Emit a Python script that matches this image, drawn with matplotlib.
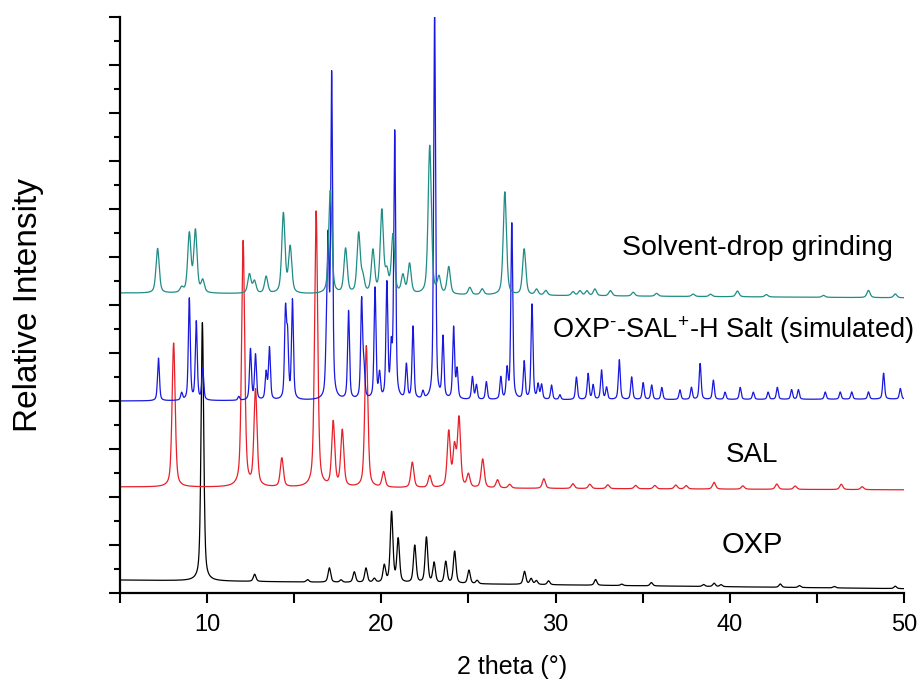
import matplotlib.pyplot as plt
from matplotlib.ticker import MultipleLocator
import numpy as np

plt.rcParams['font.family'] = ['Liberation Sans', 'DejaVu Sans']
plt.rcParams['mathtext.fontset'] = 'custom'
plt.rcParams['mathtext.rm'] = 'Liberation Sans'
plt.rcParams['mathtext.it'] = 'Liberation Sans'

# peak lists: 2theta position, height above baseline
oxp_pos = [9.73, 12.73, 15.77, 17.02, 17.69, 18.45, 19.12, 19.6, 20.17, 20.59, 20.97,
           21.92, 22.59, 23.03, 23.7, 24.21, 25.03, 25.5, 28.22, 28.6, 28.9, 29.6,
           32.3, 33.8, 35.5, 38.5, 39.1, 39.5, 42.9, 44.0, 46.0, 49.5]
oxp_h = [5.38, 0.15, 0.05, 0.3, 0.05, 0.22, 0.3, 0.08, 0.35, 1.46, 0.9,
         0.78, 0.95, 0.42, 0.45, 0.67, 0.28, 0.07, 0.27, 0.12, 0.08, 0.08,
         0.12, 0.03, 0.07, 0.04, 0.07, 0.04, 0.07, 0.04, 0.03, 0.05]

sal_pos = [8.08, 12.07, 12.78, 14.29, 16.26, 17.24, 17.76, 19.14, 20.13, 21.78, 22.78,
           23.87, 24.2, 24.46, 25.0, 25.82, 26.67, 27.37, 29.33, 31.0, 31.97, 33.0,
           34.6, 35.7, 36.9, 37.5, 39.1, 40.75, 42.7, 43.75, 46.4, 47.6]
sal_h = [3.0, 5.12, 2.0, 0.6, 5.75, 1.34, 1.17, 2.95, 0.32, 0.53, 0.25,
         1.15, 0.8, 1.42, 0.27, 0.6, 0.17, 0.08, 0.2, 0.1, 0.09, 0.08,
         0.07, 0.07, 0.08, 0.07, 0.14, 0.07, 0.11, 0.07, 0.11, 0.06]

salt_pos = [7.21, 8.54, 8.98, 9.38, 9.75, 11.82, 12.49, 12.78, 13.39, 13.58, 14.5, 14.62,
            14.9, 16.85, 16.95, 17.15, 18.12, 18.87, 19.0, 19.64, 19.9, 20.32, 20.57,
            20.77, 21.44, 21.82, 22.39, 23.06, 23.54, 24.15, 24.35, 25.23, 25.46, 26.03,
            26.86, 27.22, 27.49, 28.2, 28.65, 29.0, 29.2, 29.77, 30.25, 31.2, 31.87,
            32.16, 32.64, 32.93, 33.66, 34.37, 35.03, 35.52, 36.1, 37.14, 37.8, 38.3,
            39.06, 39.73, 40.6, 41.35, 42.2, 42.73, 43.55, 43.94, 45.48, 46.34, 47.0,
            47.96, 48.83, 49.79]
salt_h = [0.89, 0.15, 2.12, 1.63, 0.65, 0.08, 1.06, 0.94, 0.56, 1.08, 1.79, 1.2,
          2.06, 0.9, 3.0, 6.7, 1.84, 2.05, 0.6, 2.31, 0.5, 2.38, 0.96,
          5.55, 0.71, 1.51, 0.15, 8.05, 1.27, 1.49, 0.6, 0.47, 0.3, 0.37,
          0.46, 0.6, 3.67, 0.78, 1.98, 0.3, 0.3, 0.3, 0.1, 0.47, 0.54,
          0.3, 0.61, 0.25, 0.83, 0.47, 0.35, 0.3, 0.25, 0.2, 0.25, 0.75,
          0.4, 0.15, 0.25, 0.15, 0.15, 0.25, 0.2, 0.2, 0.15, 0.15, 0.15,
          0.15, 0.54, 0.22]

sdg_pos = [7.16, 8.54, 8.98, 9.33, 9.75, 12.43, 12.72, 13.39, 14.38, 14.77, 17.07,
           17.95, 18.7, 18.94, 19.52, 20.03, 20.32, 20.67, 21.24, 21.62, 22.78, 23.31,
           23.87, 25.08, 25.79, 27.09, 28.2, 28.91, 29.44, 31.0, 31.4, 31.8, 32.26,
           33.15, 34.46, 35.8, 37.9, 38.9, 40.44, 42.1, 45.38, 47.96, 49.5]
sdg_h = [0.93, 0.1, 1.22, 1.28, 0.25, 0.4, 0.25, 0.35, 1.66, 0.95, 2.15,
         0.93, 1.24, 0.3, 0.88, 1.71, 0.4, 1.21, 0.37, 0.62, 3.1, 0.33,
         0.57, 0.15, 0.12, 2.15, 0.96, 0.12, 0.1, 0.08, 0.1, 0.1, 0.14,
         0.11, 0.08, 0.06, 0.05, 0.05, 0.12, 0.05, 0.04, 0.15, 0.08]

# baseline offsets (left, right) of each stacked trace
oxp_base = (0.27, 0.09)
sal_base = (2.21, 2.15)
salt_base = (4.0, 4.04)
sdg_base = (6.25, 6.15)

x = np.linspace(5, 50, 9000)


def pattern(pos, h, fwhm, base):
    y = np.interp(x, [5, 50], base)
    for p, a in zip(pos, h):
        g = np.exp(-4 * np.log(2) * ((x - p) / fwhm) ** 2)
        l = 1 / (1 + 4 * ((x - p) / fwhm) ** 2)
        y = y + a * (0.5 * g + 0.5 * l)
    return y


fig = plt.figure(figsize=(9.2, 6.82), dpi=100)
ax = fig.add_axes([0.1304, 0.1305, 0.8522, 0.8445])

ax.plot(x, pattern(oxp_pos, oxp_h, 0.18, oxp_base), color='black', lw=0.9)
ax.plot(x, pattern(sal_pos, sal_h, 0.21, sal_base), color='#e8202a', lw=0.9)
ax.plot(x, pattern(salt_pos, salt_h, 0.13, salt_base), color='#1818e0', lw=0.9)
ax.plot(x, pattern(sdg_pos, sdg_h, 0.22, sdg_base), color='#1f8c86', lw=0.9)

ax.set_xlim(5, 50)
ax.set_ylim(0, 12)
ax.spines['top'].set_visible(False)
ax.spines['right'].set_visible(False)
ax.spines['left'].set_linewidth(1.6)
ax.spines['bottom'].set_linewidth(1.6)

ax.xaxis.set_major_locator(MultipleLocator(10))
ax.xaxis.set_minor_locator(MultipleLocator(5))
ax.yaxis.set_major_locator(MultipleLocator(1))
ax.yaxis.set_minor_locator(MultipleLocator(0.5))
ax.tick_params(axis='x', which='both', direction='out', length=7, width=1.5, labelsize=17, pad=8)
ax.tick_params(axis='y', which='major', direction='out', length=8, width=1.5, labelleft=False)
ax.tick_params(axis='y', which='minor', direction='out', length=4.5, width=1.5)

ax.set_xlabel('2 theta (°)', fontsize=18, labelpad=14)
ax.set_ylabel('Relative Intensity', fontsize=24)
ax.yaxis.set_label_coords(-0.097, 0.5)

ax.text(33.8, 7.19, 'Solvent-drop grinding', fontsize=20.5, ha='left', va='center')
ax.text(29.8, 5.48, r'OXP$^{\text{-}}$-SAL$^{+}$-H Salt (simulated)', fontsize=19.5,
        ha='left', va='center')
ax.text(41.3, 2.88, 'SAL', fontsize=20, ha='center', va='center')
ax.text(41.3, 1.0, 'OXP', fontsize=21, ha='center', va='center')

plt.savefig('out.png', dpi=100)
